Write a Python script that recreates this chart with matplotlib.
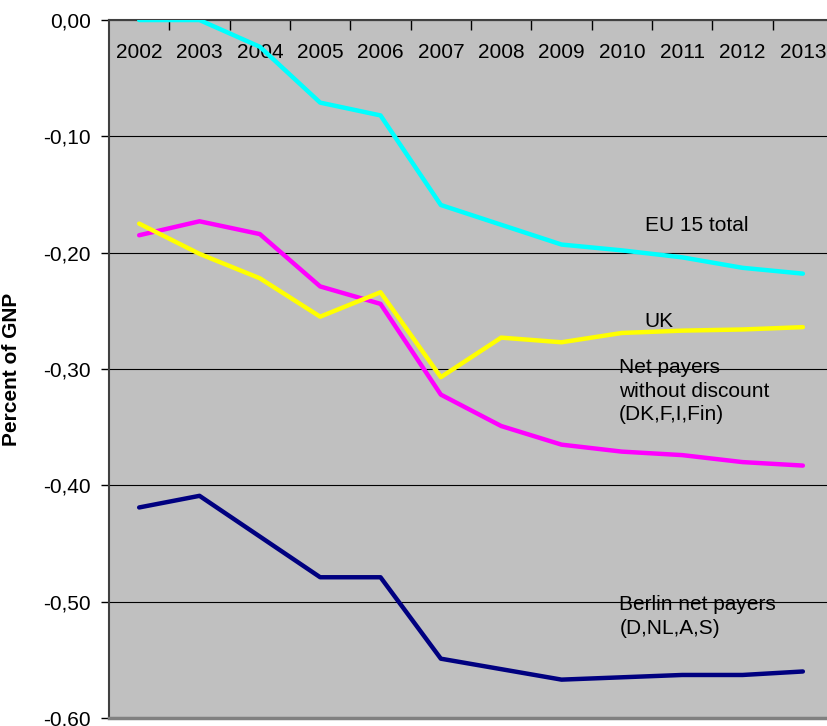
import matplotlib
matplotlib.use("Agg")
import matplotlib.pyplot as plt
from matplotlib.ticker import FixedLocator, FuncFormatter

plt.rcParams['font.family'] = ['Liberation Sans', 'DejaVu Sans']

years = ['2002', '2003', '2004', '2005', '2006', '2007',
         '2008', '2009', '2010', '2011', '2012', '2013']
eu15_total = [0.000, 0.000, -0.023, -0.071, -0.082, -0.159,
              -0.176, -0.193, -0.198, -0.204, -0.213, -0.218]
uk = [-0.175, -0.201, -0.222, -0.255, -0.234, -0.307,
      -0.273, -0.277, -0.269, -0.267, -0.266, -0.264]
net_payers = [-0.185, -0.173, -0.184, -0.229, -0.244, -0.322,
              -0.349, -0.365, -0.371, -0.374, -0.380, -0.383]
berlin = [-0.419, -0.409, -0.444, -0.479, -0.479, -0.549,
          -0.558, -0.567, -0.565, -0.563, -0.563, -0.560]

fig = plt.figure(figsize=(8.27, 7.26), dpi=100)
ax = fig.add_axes([0.1318, 0.011, 0.8755, 0.9614])
ax.set_facecolor('#C0C0C0')

x = range(len(years))
ax.plot(x, eu15_total, color='#00FFFF', lw=3.2, solid_capstyle='round', zorder=3)
ax.plot(x, net_payers, color='#FF00FF', lw=3.2, solid_capstyle='round', zorder=3)
ax.plot(x, uk, color='#FFFF00', lw=3.2, solid_capstyle='round', zorder=4)
ax.plot(x, berlin, color='#000080', lw=3.2, solid_capstyle='round', zorder=3)

ax.set_xlim(-0.5, len(years) - 0.5)
ax.set_ylim(-0.6, 0.0)

# y axis
ax.set_yticks([0.0, -0.1, -0.2, -0.3, -0.4, -0.5, -0.6])
ax.yaxis.set_major_formatter(FuncFormatter(
    lambda v, p: f"{v:.2f}".replace('.', ',') if abs(v) > 1e-9 else "0,00"))
ax.tick_params(axis='y', direction='out', length=6, width=1, labelsize=15, pad=7)
ax.grid(axis='y', color='black', lw=0.8, zorder=1)
ax.set_ylabel('Percent of GNP', fontsize=15, fontweight='bold')
ax.yaxis.set_label_coords(-0.1215, 0.5)

# category axis crossing at zero (top)
ax.spines['bottom'].set_position(('data', 0))
ax.spines['bottom'].set_color('#404040')
ax.spines['bottom'].set_linewidth(1.5)
ax.spines['top'].set_visible(False)
ax.spines['right'].set_visible(False)
ax.spines['left'].set_color('#404040')
ax.spines['left'].set_linewidth(1.5)
ax.xaxis.set_major_locator(FixedLocator([i + 0.5 for i in range(len(years))]))
ax.xaxis.set_major_formatter(FuncFormatter(lambda v, p: ''))
ax.xaxis.set_minor_locator(FixedLocator(list(x)))
ax.xaxis.set_minor_formatter(FuncFormatter(lambda v, p: years[int(round(v))]))
ax.tick_params(axis='x', which='major', direction='out', length=7, width=1)
ax.tick_params(axis='x', which='minor', length=0, labelsize=15, pad=16.5)
ax.axhline(-0.6, color='#808080', lw=2.5, clip_on=False, zorder=5)

# series labels
ax.text(8.38, -0.177, 'EU 15 total', fontsize=15, va='center', ha='left')
ax.text(8.38, -0.259, 'UK', fontsize=15, va='center', ha='left')
ax.text(7.95, -0.319, 'Net payers\nwithout discount\n(DK,F,I,Fin)',
        fontsize=15, va='center', ha='left', linespacing=1.3)
ax.text(7.96, -0.513, 'Berlin net payers\n(D,NL,A,S)',
        fontsize=15, va='center', ha='left', linespacing=1.35)

fig.savefig('out.png', dpi=100)
